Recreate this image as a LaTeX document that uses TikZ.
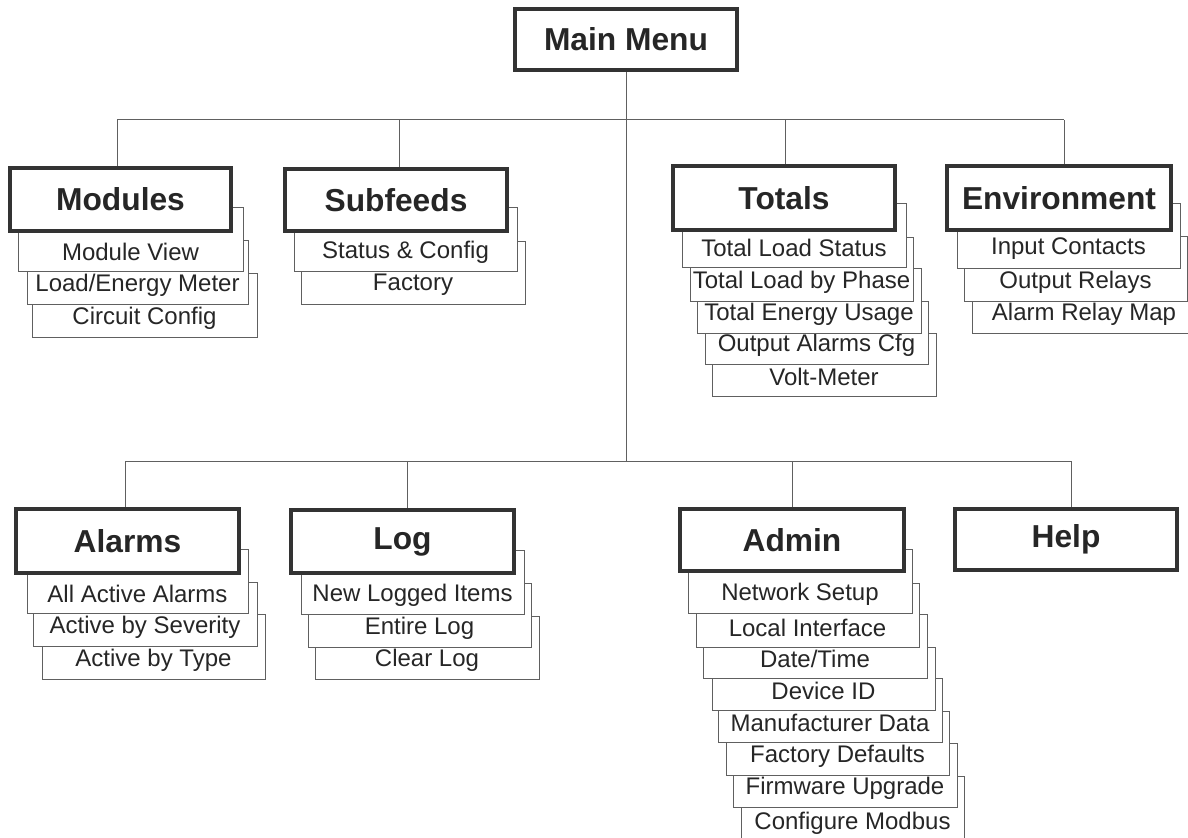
\documentclass[tikz,border=0pt]{standalone}
\usepackage{fontspec}
\setmainfont{Liberation Sans}
\definecolor{boxdark}{HTML}{333333}
\definecolor{linegray}{HTML}{606060}
\definecolor{txt}{HTML}{262626}
\tikzset{
  mainbox/.style={draw=boxdark, line width=3pt, fill=white, inner sep=0pt, text=txt,
    font=\fontsize{23.8}{28}\selectfont\bfseries},
  subbox/.style={draw=linegray, line width=0.75pt, fill=white, inner sep=0pt},
  sublabel/.style={font=\fontsize{18}{21.5}\selectfont, text=txt, inner sep=0pt},
  conn/.style={draw=linegray, line width=0.75pt}
}
\newcommand{\mainbx}[6]{%
  \node[mainbox, minimum width=(#4-#2-4)*0.75pt, minimum height=(#5-#3-4)*0.75pt]
    (#1) at ({(#2+#4)/2},{(#3+#5)/2}) {#6};}
\newcommand{\subbx}[6]{%
  \node[subbox, minimum width=(#4-#2)*0.75pt, minimum height=(#5-#3)*0.75pt]
    (#1) at ({(#2+#4)/2},{(#3+#5)/2}) {};
  \node[sublabel] (#1-t) at ({(#2+#4)/2},{#5-19}) {#6};}
\begin{document}
\begin{tikzpicture}[x=0.75pt, y=-0.75pt]
\useasboundingbox (0,0) rectangle (1188,838);
\clip (0,0) rectangle (1188,838);
% bus coordinates
\coordinate (topbus) at (626,120);
\coordinate (botbus) at (626,461);
\coordinate (tbmod) at (117,120);
\coordinate (tbsub) at (399,120);
\coordinate (tbtot) at (785,120);
\coordinate (tbenv) at (1064,120);
\coordinate (bbala) at (125,461);
\coordinate (bblog) at (407,461);
\coordinate (bbadm) at (792,461);
\coordinate (bbhlp) at (1071,461);
\coordinate (mmbot) at (626,72);
% connectors
\draw[conn] (mmbot) -- (botbus);
\draw[conn] (tbmod) -- (tbenv);
\draw[conn] (bbala) -- (bbhlp);
\draw[conn] (tbmod) -- (117,168);
\draw[conn] (tbsub) -- (399,168);
\draw[conn] (tbtot) -- (785,166);
\draw[conn] (tbenv) -- (1064,166);
\draw[conn] (bbala) -- (125,509);
\draw[conn] (bblog) -- (407,510);
\draw[conn] (bbadm) -- (792,509);
\draw[conn] (bbhlp) -- (1071,509);
% Main menu
\mainbx{mainmenu}{513}{7}{739}{72}{Main Menu}
% Modules
\subbx{cc}{32}{273}{257}{337}{Circuit Config}
\subbx{lem}{27}{240}{248}{304}{Load/Energy Meter}
\subbx{mv}{18}{207}{243}{271}{Module View}
\mainbx{modules}{8}{166}{233}{233}{Modules}
% Subfeeds
\subbx{fa}{301}{241}{525}{304}{Factory}
\subbx{sc}{294}{207}{517}{271}{Status \& Config}
\mainbx{subfeeds}{283}{167}{509}{233}{Subfeeds}
% Totals
\subbx{tfive}{712}{333}{936}{396}{Volt-Meter}
\subbx{tfour}{705}{301}{928}{364}{Output Alarms Cfg}
\subbx{tthree}{697}{268}{921}{333}{Total Energy Usage}
\subbx{ttwo}{690}{237}{913}{301}{Total Load by Phase}
\subbx{tone}{682}{203}{906}{267}{Total Load Status}
\mainbx{totals}{671}{164}{897}{232}{Totals}
% Environment
\subbx{ethree}{972}{269}{1196}{333}{Alarm Relay Map}
\subbx{etwo}{964}{236}{1187}{301}{Output Relays}
\subbx{eone}{957}{203}{1180}{268}{Input Contacts}
\mainbx{environment}{945}{164}{1173}{232}{Environment}
% Alarms
\subbx{athree}{42}{614}{265}{679}{Active by Type}
\subbx{atwo}{33}{582}{257}{646}{Active by Severity}
\subbx{aone}{27}{549}{248}{613}{All Active Alarms}
\mainbx{alarms}{14}{507}{241}{575}{Alarms}
% Log
\subbx{lthree}{315}{616}{539}{679}{Clear Log}
\subbx{ltwo}{308}{583}{531}{647}{Entire Log}
\subbx{lone}{301}{550}{524}{614}{New Logged Items}
\mainbx{log}{289}{508}{516}{575}{Log}
% Admin
\subbx{deight}{741}{776}{964}{842}{Configure Modbus}
\subbx{dseven}{733}{743}{957}{807}{Firmware Upgrade}
\subbx{dsix}{726}{711}{949}{775}{Factory Defaults}
\subbx{dfive}{718}{678}{942}{742}{Manufacturer Data}
\subbx{dfour}{712}{647}{935}{710}{Device ID}
\subbx{dthree}{703}{614}{927}{678}{Date/Time}
\subbx{dtwo}{696}{583}{919}{647}{Local Interface}
\subbx{done}{688}{549}{912}{613}{Network Setup}
\mainbx{admin}{678}{507}{906}{573}{Admin}
% Help
\mainbx{help}{953}{507}{1179}{572}{Help}
\end{tikzpicture}
\end{document}
